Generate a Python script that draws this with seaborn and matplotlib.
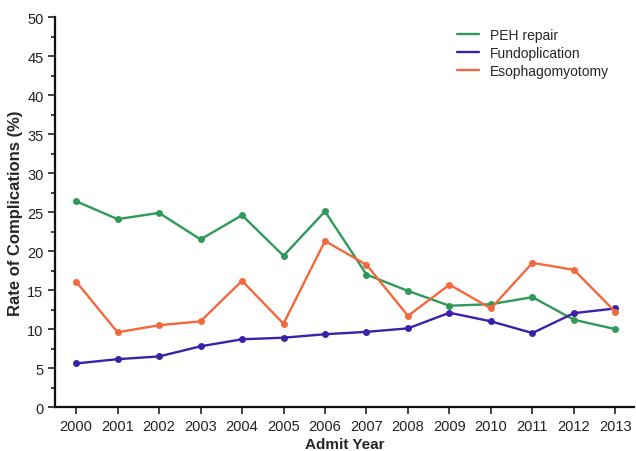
import pandas as pd
import matplotlib
matplotlib.use("Agg")
import matplotlib.pyplot as plt
import seaborn as sns
from matplotlib.ticker import MultipleLocator

# Values
years = list(range(2000, 2014))
peh_repair = [26.4, 24.1, 24.9, 21.5, 24.6, 19.4, 25.1, 17.0, 14.9, 13.0, 13.2, 14.1, 11.2, 10.0]
fundoplication = [5.6, 6.15, 6.5, 7.8, 8.7, 8.9, 9.35, 9.65, 10.1, 12.1, 11.0, 9.5, 12.05, 12.65]
esophagomyotomy = [16.1, 9.6, 10.5, 11.0, 16.2, 10.7, 21.3, 18.25, 11.7, 15.7, 12.65, 18.5, 17.6, 12.2]

series = ["PEH repair", "Fundoplication", "Esophagomyotomy"]
colors = ["#2f9a57", "#3a21a8", "#f2693d"]

df = pd.DataFrame({
    "year": years * 3,
    "rate": peh_repair + fundoplication + esophagomyotomy,
    "procedure": [s for s in series for _ in years],
})

sns.set_style("ticks")
plt.rcParams["font.family"] = ["Liberation Sans", "DejaVu Sans"]

fig = plt.figure(figsize=(6.36, 4.52), dpi=100)
ax = fig.add_axes([0.087, 0.097, 0.91, 0.863])

sns.lineplot(data=df, x="year", y="rate", hue="procedure", hue_order=series,
             palette=colors, marker="o", markersize=5, markeredgewidth=0,
             linewidth=1.7, ax=ax)

ax.set_xlim(1999.5, 2013.45)
ax.set_ylim(0, 50)
ax.set_xticks(years)
ax.yaxis.set_major_locator(MultipleLocator(5))
ax.yaxis.set_minor_locator(MultipleLocator(2.5))
ax.tick_params(axis="both", labelsize=10.5, colors="#222222", width=1.2, length=5)
ax.tick_params(axis="y", which="minor", width=1.2, length=3, color="#222222")
for side in ["left", "bottom"]:
    ax.spines[side].set_linewidth(1.6)
    ax.spines[side].set_color("#111111")
sns.despine(ax=ax)

ax.set_xlabel("Admit Year", fontsize=11, fontweight="bold", labelpad=3)
ax.set_ylabel("Rate of Complications (%)", fontsize=12, fontweight="bold", labelpad=3)

handles, labels = ax.get_legend_handles_labels()
for h in handles:
    h.set_marker("")
ax.legend(handles, labels, loc="upper right", bbox_to_anchor=(0.978, 1.005),
          frameon=False, fontsize=10, handlelength=1.6, handletextpad=0.75,
          labelspacing=0.3)

fig.savefig("out.png", dpi=100)
